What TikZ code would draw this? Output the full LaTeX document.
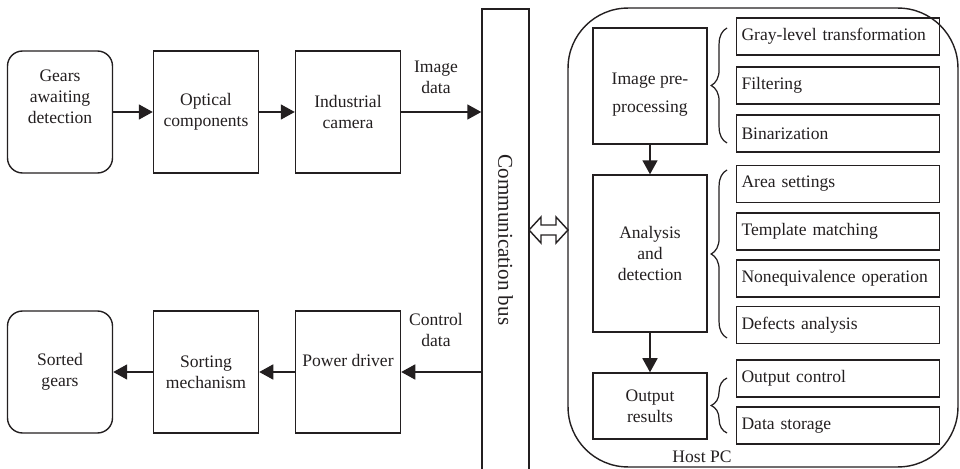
\documentclass[tikz,border=0pt]{standalone}
\usepackage{fontspec}
\setmainfont{Liberation Serif}
\usetikzlibrary{arrows.meta,positioning,decorations.pathreplacing}
\definecolor{ink}{HTML}{231F20}
\tikzset{
  block/.style={draw=ink, line width=.8pt, minimum width=2.1cm, minimum height=2.44cm,
    align=center, text=ink},
  endbox/.style={block, rounded corners=.3cm},
  stage/.style={block, minimum width=2.28cm},
  subbox/.style={draw=ink, line width=.8pt, minimum height=.74cm, text width=3.86cm,
    inner xsep=3pt, align=left, text=ink},
  busbox/.style={draw=ink, line width=.8pt, minimum width=.94cm, minimum height=9.42cm},
  hostbox/.style={draw=ink, line width=.8pt, rounded corners=1.2cm, minimum width=7.8cm,
    minimum height=9.18cm},
  lbl/.style={align=center, text=ink},
  arr/.style={-{Triangle[length=8pt,width=8.5pt]}, draw=ink, line width=1.1pt},
  brc/.style={decorate, decoration={brace, amplitude=9pt}, draw=ink, line width=.7pt}
}

\begin{document}
\begin{tikzpicture}[x=.02cm, y=-.02cm]
  \useasboundingbox (0,0) rectangle (960,469);

  % field side
  \node[endbox, text depth=17pt] (gears) at (60,112) {Gears\\awaiting\\detection};
  \node[block] (optics) at (206,112) {Optical\\components};
  \node[block] (camera) at (348,112) {Industrial\\camera};
  \node[endbox] (sorted) at (60,372) {Sorted\\gears};
  \node[block] (sorting) at (206,372) {Sorting\\mechanism};
  \node[block, text depth=13pt] (power) at (348,372) {Power driver};

  \node[busbox] (bus) at (505.5,244.5) {};
  \node[font=\large, rotate=-90, text=ink] (busname) at (505.5,240) {Communication bus};

  \node[lbl] (imgdata) at (436,77) {Image\\data};
  \node[lbl] (ctrldata) at (436,330) {Control\\data};

  \draw[arr] (gears) -- (optics);
  \draw[arr] (optics) -- (camera);
  \draw[arr] (camera) -- (camera -| bus.west);
  \draw[arr] (power -| bus.west) -- (power);
  \draw[arr] (power) -- (sorting);
  \draw[arr] (sorting) -- (sorted);

  % host PC
  \node[hostbox] (host) at (763,237.5) {};
  \node[lbl] (hostname) at (702,457) {Host PC};

  \node[stage, minimum height=2.32cm, font=\fontsize{10}{16}\selectfont, text height=32pt] (pre) at (650,86) {Image pre-\\processing};
  \node[stage, minimum height=3.14cm] (ana) at (650,253.5) {Analysis\\and\\detection};
  \node[stage, minimum height=1.32cm] (out) at (650,406) {Output\\results};
  \draw[arr] (pre) -- (ana);
  \draw[arr] (ana) -- (out);

  \node[subbox] (gray) at (838,36.5) {Gray-level transformation};
  \node[subbox] (filt) at (838,85.5) {Filtering};
  \node[subbox] (bin) at (838,133.5) {Binarization};
  \node[subbox] (area) at (838,184) {Area settings};
  \node[subbox] (templ) at (838,231.5) {Template matching};
  \node[subbox] (noneq) at (838,278.5) {Nonequivalence operation};
  \node[subbox] (defect) at (838,325) {Defects analysis};
  \node[subbox] (outctl) at (838,378.5) {Output control};
  \node[subbox] (store) at (838,425.5) {Data storage};

  \draw[brc] (727,143) -- (727,28);
  \draw[brc] (727,338) -- (727,170);
  \draw[brc] (727,433) -- (727,378);

  % hollow two-way arrow between bus and host
  \coordinate (busR) at (529,230);
  \coordinate (hostL) at (568,230);
  \draw[draw=ink, line width=.8pt, fill=white] (busR) -- ++(12,-13) -- ++(0,8) -- ++(15,0)
    -- ++(0,-8) -- (hostL) -- ++(-12,13) -- ++(0,-8) -- ++(-15,0) -- ++(0,8) -- cycle;
\end{tikzpicture}
\end{document}
